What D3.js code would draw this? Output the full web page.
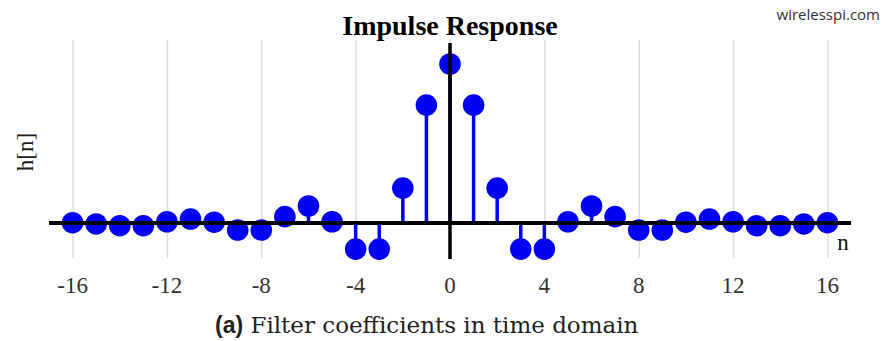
<!DOCTYPE html>
<html>
<head>
<meta charset="utf-8">
<script src="https://cdn.jsdelivr.net/npm/d3@7"></script>
<style>
    html, body { margin: 0; padding: 0; background: #fff; }
    svg text { font-family: "Palatino Linotype", "Book Antiqua", Palatino, "Liberation Serif", serif; }
</style>
</head>
<body>
<div id="chart"></div>
<script>
    // sample index n and filter coefficient h[n]
    const taps = d3.range(-16, 17)
    const coeffs = [
        0.002, -0.006, -0.017, -0.017, 0.008, 0.025, 0.005, -0.044, -0.044, 0.04, 0.107,
        0.008, -0.164, -0.164, 0.22, 0.742, 1.0, 0.742, 0.22, -0.164, -0.164, 0.008,
        0.107, 0.04, -0.044, -0.044, 0.005, 0.025, 0.008, -0.017, -0.017, -0.006, 0.002
    ]
    const xTicks = [-16, -12, -8, -4, 0, 4, 8, 12, 16]

    const data = taps.map((n, i) => ({ n: n, h: coeffs[i] }))

    const svgWidth = 883
    const svgHeight = 341

    const svg = d3.select('#chart')
        .append('svg')
        .attr('width', svgWidth)
        .attr('height', svgHeight)

    ////////////////////////////////////
    //////////////scales////////////////
    ////////////////////////////////////

    const xScale = d3.scaleLinear()
        .domain([-17, 17])
        .range([49, 851])

    const yScale = d3.scaleLinear()
        .domain([-0.22, 1.151])
        .range([258, 40])

    const blue = '#0000f2'
    const radius = 10.8

    ////////////////////////////////////
    ///////////// grid /////////////////
    ////////////////////////////////////

    const xGrid = d3.axisBottom(xScale)
        .tickValues(xTicks)
        .tickSize(-(258 - 40))
        .tickFormat('')

    svg.append('g')
        .attr('class', 'x-grid')
        .attr('transform', 'translate(0,258)')
        .call(xGrid)
        .call(g => g.select('.domain').remove())
        .call(g => g.selectAll('line').attr('stroke', '#dcdcdc').attr('stroke-width', 1.5))

    // tick labels
    svg.append('g')
        .selectAll('text')
        .data(xTicks)
        .join('text')
        .attr('x', d => xScale(d))
        .attr('y', 293)
        .attr('text-anchor', 'middle')
        .attr('font-size', 23)
        .attr('fill', '#333')
        .text(d => d)

    ////////////////////////////////////
    ///////////// stems ////////////////
    ////////////////////////////////////

    svg.selectAll('.stem')
        .data(data)
        .join('line')
        .attr('class', 'stem')
        .attr('x1', d => xScale(d.n))
        .attr('x2', d => xScale(d.n))
        .attr('y1', yScale(0))
        .attr('y2', d => yScale(d.h))
        .attr('stroke', blue)
        .attr('stroke-width', 3.5)

    svg.selectAll('.points')
        .data(data)
        .join('circle')
        .attr('class', 'points')
        .attr('cx', d => xScale(d.n))
        .attr('cy', d => yScale(d.h))
        .attr('r', radius)
        .attr('fill', blue)

    ////////////////////////////////////
    ///////////// axes /////////////////
    ////////////////////////////////////

    // axes sit on top of the markers, as in the original
    svg.append('line')
        .attr('x1', xScale(-17))
        .attr('x2', xScale(17))
        .attr('y1', yScale(0))
        .attr('y2', yScale(0))
        .attr('stroke', '#000')
        .attr('stroke-width', 4)

    svg.append('line')
        .attr('x1', xScale(0))
        .attr('x2', xScale(0))
        .attr('y1', 43)
        .attr('y2', 259)
        .attr('stroke', '#000')
        .attr('stroke-width', 3.5)

    ////////////////////////////////////
    ///////////// labels ///////////////
    ////////////////////////////////////

    svg.append('text')
        .text('Impulse Response')
        .attr('x', 450)
        .attr('y', 35)
        .attr('text-anchor', 'middle')
        .attr('font-size', 28)
        .attr('font-weight', 'bold')
        .attr('fill', '#000')

    svg.append('text')
        .text('wirelesspi.com')
        .attr('x', 880)
        .attr('y', 20)
        .attr('text-anchor', 'end')
        .attr('font-size', 15)
        .attr('fill', '#333')
        .style('font-family', '"Open Sans", "DejaVu Sans", sans-serif')

    svg.append('text')
        .text('h[n]')
        .attr('text-anchor', 'middle')
        .attr('font-size', 23)
        .attr('fill', '#222')
        .attr('transform', 'translate(33,152) rotate(-90)')

    svg.append('text')
        .text('n')
        .attr('x', 843)
        .attr('y', 250)
        .attr('text-anchor', 'middle')
        .attr('font-size', 23)
        .attr('fill', '#111')

    const caption = svg.append('text')
        .attr('x', 215)
        .attr('y', 333)
        .attr('font-size', 23)
        .attr('fill', '#222')

    caption.append('tspan')
        .text('(a)')
        .attr('font-weight', 'bold')
        .attr('font-size', 23)
        .style('font-family', '"Liberation Sans", Arial, sans-serif')

    caption.append('tspan')
        .text(' Filter coefficients in time domain')
        .style('font-family', '"DejaVu Serif", serif')
</script>
</body>
</html>
